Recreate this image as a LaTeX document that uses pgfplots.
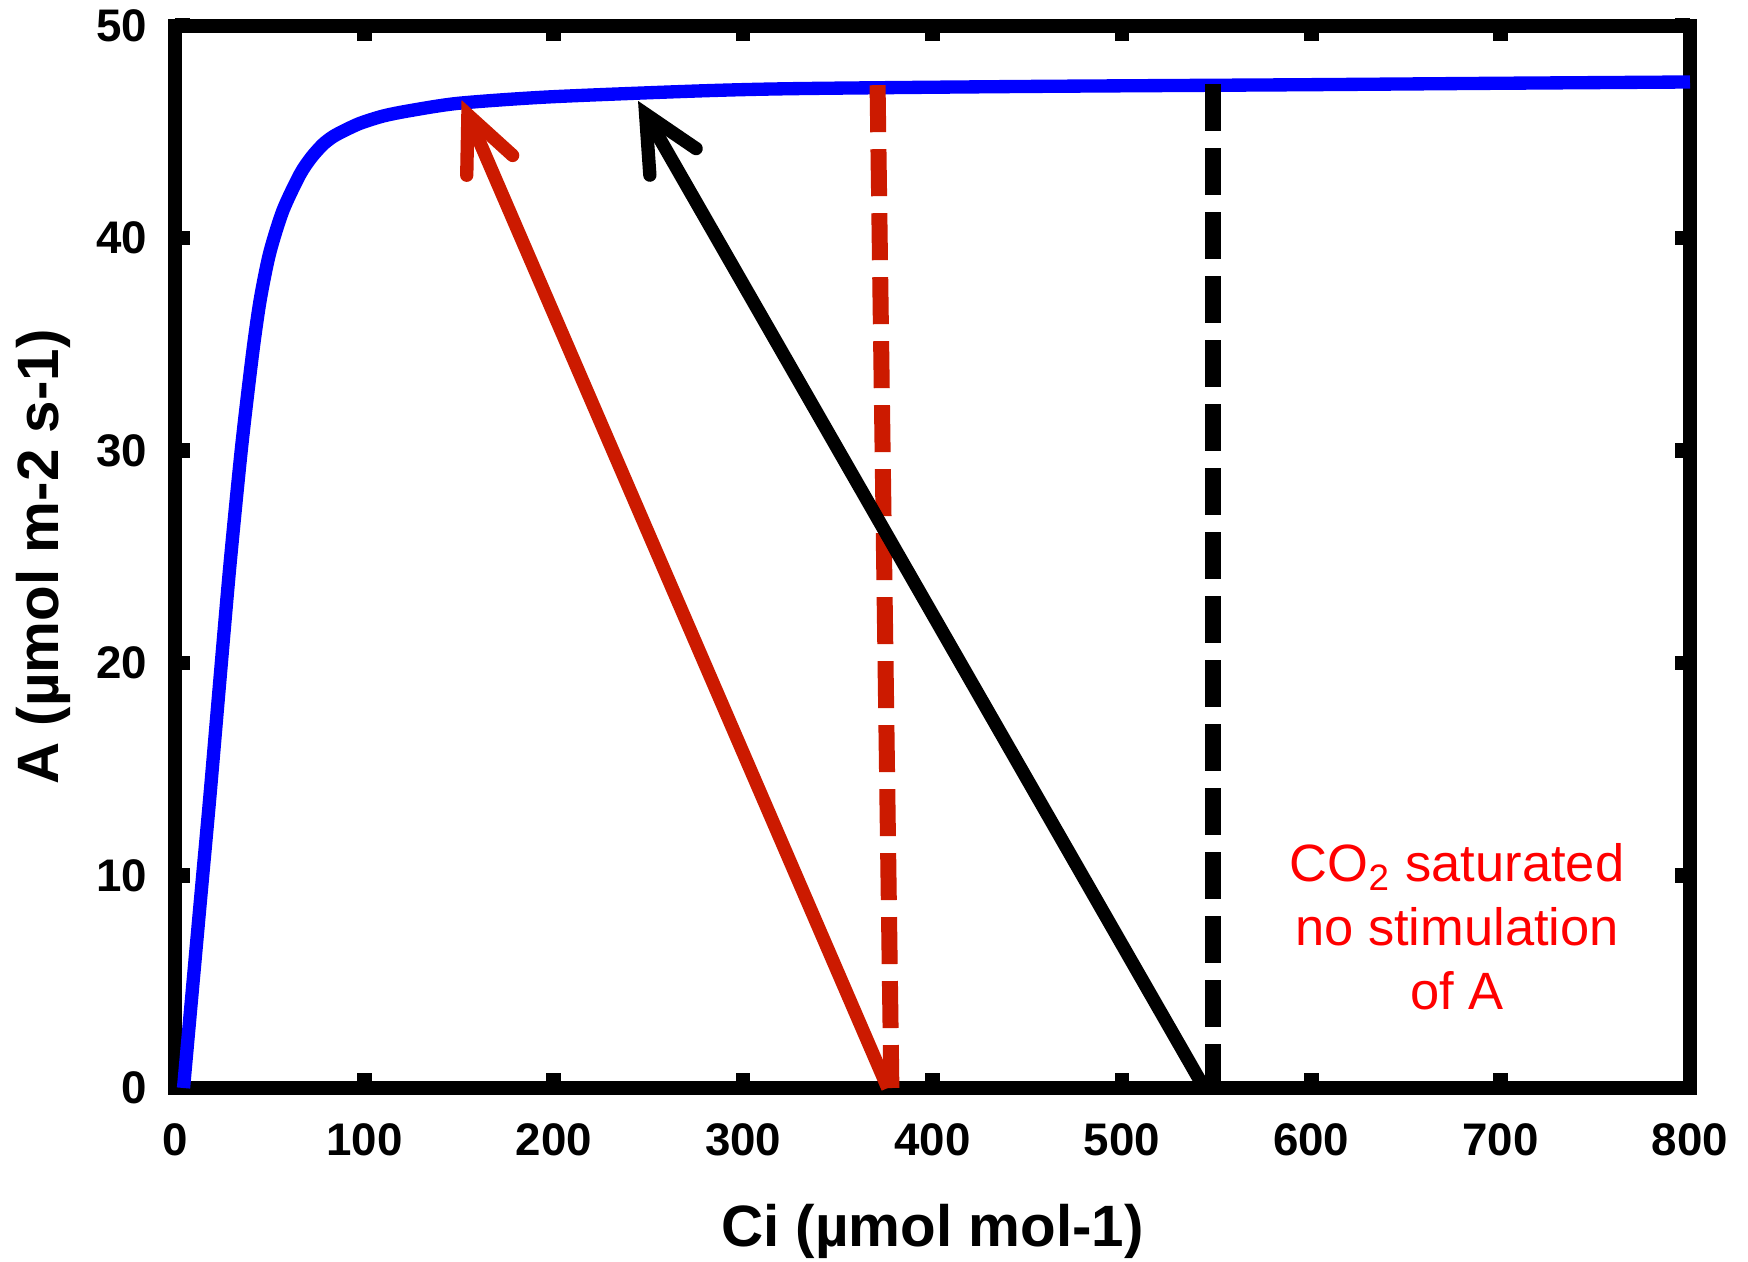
\documentclass[border=0pt]{standalone}
\usepackage{pgfplots}
\pgfplotsset{compat=1.18}
\usepackage{fontspec}
\setmainfont{Liberation Sans}
\usetikzlibrary{arrows.meta}
\definecolor{myred}{RGB}{204,26,0}
\begin{document}
\begin{tikzpicture}
\useasboundingbox (-52.5pt,-51.9pt) rectangle (471.9pt,326.4pt);
\begin{axis}[
  at={(0pt,0pt)}, anchor=south west,
  scale only axis, width=454.5pt, height=318.7pt,
  xmin=0, xmax=800, ymin=0, ymax=50,
  xtick={0,100,...,800}, ytick={0,10,...,50},
  tick align=inside,
  major tick length=4.6pt,
  tick style={black, line width=4.4pt},
  axis line style={line width=4.2pt},
  /pgf/number format/assume math mode=true,
  tick label style={font=\fontsize{13.7}{16}\selectfont\bfseries},
  xticklabel style={anchor=north, inner sep=0pt, yshift=-10.4pt},
  yticklabel style={anchor=east, inner sep=0pt, xshift=-8.1pt},
  xlabel={Ci (µmol mol-1)}, ylabel={A (µmol m-2 s-1)},
  label style={font=\fontsize{17.5}{20}\selectfont\bfseries, inner sep=0pt},
  xlabel style={at={(rel axis cs:0.5,-0.1092)}, anchor=north},
  ylabel style={at={(rel axis cs:-0.0686,0.5)}, anchor=south},
  clip=false,
]
\addplot[blue, line width=4pt, line join=round, smooth, tension=0.45] coordinates {
(4.5,0) (13.2,8.6) (18.5,13.8) (23.7,19.2) (29,24.6) (35.2,30.2)
(41,34.6) (45,37.1) (50,39.3) (57,41.3) (66,43.0) (72,43.8) (78,44.4) (83,44.75) (88,45.0)
(97.6,45.4) (110,45.75) (124,46.0) (150,46.35) (198,46.65) (277,46.93)
(330,47.04) (450,47.14) (594,47.22) (700,47.29) (800,47.35)};
\addplot[myred, line width=4.8pt, dash pattern=on 14.1pt off 5.1pt] coordinates {(371,47.2) (378.3,0)};
\addplot[black, line width=4.8pt, dash pattern=on 14.1pt off 5.1pt] coordinates {(548,47.25) (548,0)};
\addplot[myred, line width=4pt, -{Straight Barb[length=16.5pt,width=15pt,line cap=round]}] coordinates {(376.4,0) (151.3,46.5)};
\addplot[black, line width=4pt, -{Straight Barb[length=16.5pt,width=16pt,line cap=round]}] coordinates {(543.5,0) (244.5,46.46)};
\node[text=red, align=center, font=\fontsize{15.75}{19.2}\selectfont, inner sep=0pt] at (axis cs:677,7.6) {CO\textsubscript{2} saturated\\no stimulation\\of A};
\end{axis}
\end{tikzpicture}
\end{document}
